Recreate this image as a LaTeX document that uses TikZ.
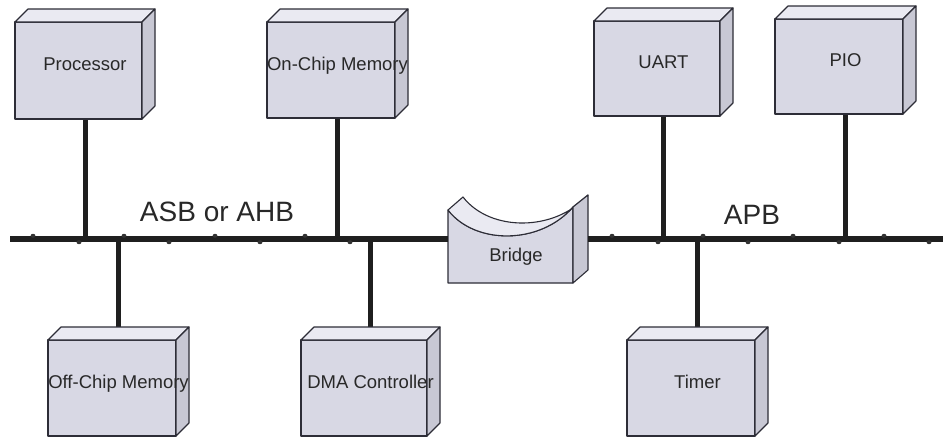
\documentclass[tikz,border=0pt]{standalone}
\usepackage{fontspec}
\setmainfont{Liberation Sans}
\pgfdeclarelayer{bg}
\pgfsetlayers{bg,main}
\definecolor{frontc}{RGB}{216,216,228}
\definecolor{topc}{RGB}{234,234,242}
\definecolor{sidec}{RGB}{200,200,212}
\definecolor{edgec}{RGB}{45,45,55}
\definecolor{textc}{RGB}{40,40,40}
\tikzset{
  face/.style={draw=edgec, line width=1.1pt, line join=round},
  boxnode/.style={inner sep=0pt, text=textc, font=\fontsize{18.5}{20}\selectfont, text height=13.2pt, text depth=0pt},
  buslabel/.style={inner sep=0pt, text=textc, font=\fontsize{28}{30}\selectfont},
  busline/.style={line width=5.5pt, draw=black!88},
  stem/.style={line width=5pt, draw=black!88},
  tickmark/.style={fill=black!80},
}
% name, x1, y1 (front top), x2, y2 (front bottom), text
\newcommand\cubebox[6]{%
  \filldraw[face, fill=frontc] (#2,#3) rectangle (#4,#5);
  \filldraw[face, fill=topc] (#2,#3) -- (#2+13,#3-13) -- (#4+13,#3-13) -- (#4,#3) -- cycle;
  \filldraw[face, fill=sidec] (#4,#3) -- (#4+13,#3-13) -- (#4+13,#5-13) -- (#4,#5) -- cycle;
  \node[boxnode, minimum width={#4-#2+13}, minimum height={#5-#3+13}]
    (#1) at ({(#2+#4+13)/2},{(#3-13+#5)/2}) {#6};
}
\begin{document}
\begin{tikzpicture}[x=1pt,y=-1pt]
\useasboundingbox (0,0) rectangle (946,437);
\begin{pgfonlayer}{bg}
\fill[white] (0,0) rectangle (946,437);
\end{pgfonlayer}

% upper boxes
\cubebox{proc}{15}{22}{142}{119}{Processor}
\cubebox{onchip}{267}{22}{395}{118}{On-Chip Memory}
\cubebox{uart}{594}{21}{720}{116}{UART}
\cubebox{pio}{775}{19}{903}{114}{PIO}
% lower boxes
\cubebox{offchip}{48}{340}{176}{436}{Off-Chip Memory}
\cubebox{dma}{301}{340}{427}{436}{DMA Controller}
\cubebox{timer}{627}{340}{755}{436}{Timer}

% bridge
\filldraw[face, fill=frontc] (448,210) .. controls (475,245) and (540,245) .. (573,207)
  -- (573,283) -- (448,283) -- cycle;
\filldraw[face, fill=topc] (463,197) .. controls (490,232) and (555,232) .. (588,195)
  -- (573,207) .. controls (540,245) and (475,245) .. (448,210) -- cycle;
\filldraw[face, fill=sidec] (573,207) -- (588,195) -- (588,270) -- (573,283) -- cycle;
\node[inner sep=0pt, minimum width=140, minimum height=88] (bridge) at (518,239) {};
\node[boxnode] (bridgelbl) at (516,255) {Bridge};

% bus
\coordinate (busW) at (10,239);
\coordinate (busE) at (943,239);
\draw[busline] (busW) -- (bridge.west);
\draw[busline] (bridge.east) -- (busE);
\foreach \x in {33,124,215,305,612,703,793,884}
  \fill[tickmark] (\x,235.8) ellipse [x radius=2.4pt, y radius=2pt];
\foreach \x in {79,169,260,350,658,748,839,929}
  \fill[tickmark] (\x,242.2) ellipse [x radius=2.4pt, y radius=2pt];

% stems
\begin{pgfonlayer}{bg}
\foreach \n in {proc,onchip,uart,pio}
  \draw[stem] (\n.south) -- (\n.south |- busW);
\foreach \n in {offchip,dma,timer}
  \draw[stem] (\n.north) -- (\n.north |- busW);
\end{pgfonlayer}

% bus labels
\node[buslabel] (asb) at (217,212) {ASB or AHB};
\node[buslabel] (apb) at (752,215) {APB};
\end{tikzpicture}
\end{document}
